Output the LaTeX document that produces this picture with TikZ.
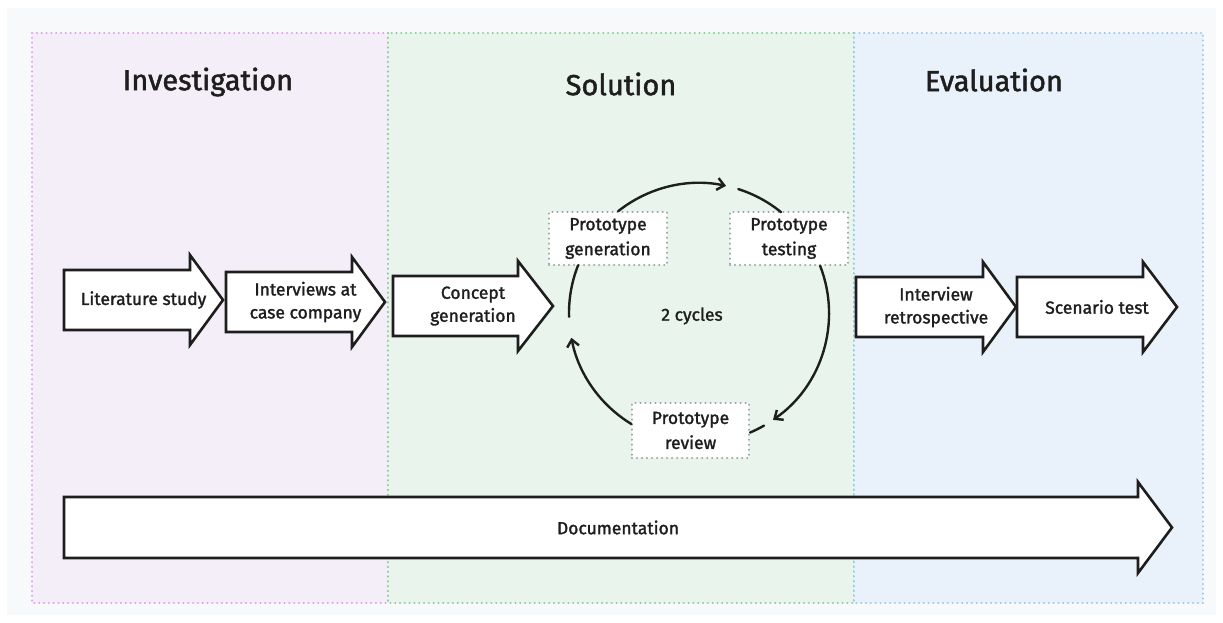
\documentclass[tikz,border=0pt]{standalone}
\usepackage{fontspec}
\setmainfont{Fira Sans}
\newfontfamily\labelfont[FakeBold=1.6]{Fira Sans}
\usetikzlibrary{arrows.meta,calc}

\definecolor{pagebg}{HTML}{F8F9FB}
\definecolor{invfill}{HTML}{F4EEF8}
\definecolor{invline}{HTML}{E49AF0}
\definecolor{solfill}{HTML}{E9F4EC}
\definecolor{solline}{HTML}{84D092}
\definecolor{evafill}{HTML}{E9F1FA}
\definecolor{evaline}{HTML}{98C6F0}
\definecolor{ink}{HTML}{1E1E1E}
\definecolor{boxline}{HTML}{9A9FA9}

% block arrow: name, left x, head base x, tip x, body top y, body bottom y, text
\newcommand{\BlockArrow}[7]{%
  \draw[blockarrow] (#2,#5) -- (#3,#5) -- (#3,#5-15) -- (#4,{(#5+#6)/2})
    -- (#3,#6+15) -- (#3,#6) -- (#2,#6) -- cycle;
  \node[btext] (#1) at ({(#2+#4)/2},{(#5+#6)/2}) {#7};}

\begin{document}
\begin{tikzpicture}[x=1pt,y=-1pt,
  zone/.style={line width=2.4pt, line cap=round, dash pattern=on 0.01pt off 4.8pt},
  title/.style={font=\labelfont\fontsize{29}{34}\selectfont, text=ink},
  blockarrow/.style={draw=ink, fill=white, line width=2.6pt, line join=miter},
  btext/.style={font=\labelfont\fontsize{17.5}{23}\selectfont, text=ink, align=center},
  stagebox/.style={draw=boxline, fill=white, line width=2.4pt, line cap=round,
    dash pattern=on 0.01pt off 5pt, font=\labelfont\fontsize{17.5}{25}\selectfont,
    text=ink, align=center, inner sep=0pt},
  cyc/.style={draw=ink, line width=2.4pt, line cap=round},
  tip/.style={-{Straight Barb[length=7pt,width=12pt]}}
]
\useasboundingbox (0,0) rectangle (1223,622);
\fill[pagebg] (7,8) rectangle (1216,615);

% phases
\filldraw[zone, fill=invfill, draw=invline] (32,33) rectangle (388,603);
\filldraw[zone, fill=solfill, draw=solline] (388,33) rectangle (854,603);
\filldraw[zone, fill=evafill, draw=evaline] (854,33) rectangle (1203,603);

\node[title] (tinv) at (208,82) {Investigation};
\node[title] (tsol) at (621,84) {Solution};
\node[title] (teva) at (994,80) {Evaluation};

% process steps
\BlockArrow{lit}{64}{190}{223}{270}{330}{Literature study}
\BlockArrow{int}{226}{352}{385}{272}{332}{Interviews at\\case company}
\BlockArrow{con}{393}{518}{553}{276}{336}{Concept\\generation}
\BlockArrow{ret}{856}{983}{1016}{277}{337}{Interview\\retrospective}
\BlockArrow{sce}{1017}{1143}{1177}{277}{337}{Scenario test}
\BlockArrow{doc}{64}{1138}{1172}{497}{558}{Documentation}

% prototype cycle
\coordinate (cc) at (699,313);
\node[stagebox, minimum width=118pt, minimum height=53pt] (gen) at (608,238.5) {Prototype\\generation};
\node[stagebox, minimum width=118pt, minimum height=53pt] (tst) at (789,238.5) {Prototype\\testing};
\node[stagebox, minimum width=117pt, minimum height=55pt] (rev) at (690.5,430.5) {Prototype\\review};
\node[btext] (cyc) at (692,316) {2 cycles};

\coordinate (g1) at ($(cc)+(128.5:130pt)$);
\coordinate (t1) at ($(cc)+(72.4:130pt)$);
\coordinate (t2) at ($(cc)+(21.3:130pt)$);
\coordinate (r1) at ($(cc)+(-60:130pt)$);
\coordinate (r2) at ($(cc)+(238.7:130pt)$);
\coordinate (g2) at ($(cc)+(181.7:130pt)$);

\draw[cyc,tip] (g1) arc[start angle=128.5, end angle=78, radius=130pt];
\draw[cyc] (t1) arc[start angle=72.4, end angle=50.9, radius=130pt];
\draw[cyc,tip] (t2) arc[start angle=21.3, end angle=-55.3, radius=130pt];
\draw[cyc] (r1) arc[start angle=-60, end angle=-66.9, radius=130pt];
\draw[cyc,tip] (r2) arc[start angle=238.7, end angle=191, radius=130pt];
\draw[cyc] (g2) arc[start angle=181.7, end angle=158.4, radius=130pt];
\end{tikzpicture}
\end{document}
